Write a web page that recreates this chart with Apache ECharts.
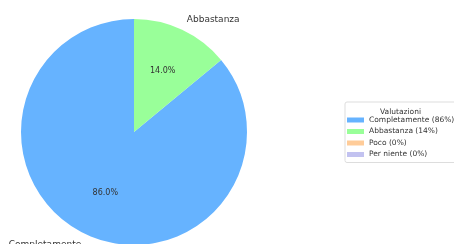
<!DOCTYPE html>
<html>
<head>
<meta charset="utf-8">
<script src="https://cdn.jsdelivr.net/npm/echarts@6/dist/echarts.min.js"></script>
<style>
  html, body { margin: 0; padding: 0; background: #fff; }
  #chart { width: 454px; height: 244px; }
</style>
</head>
<body>
<div id="chart"></div>
<script>
// dati
var categories = ['Completamente', 'Abbastanza', 'Poco', 'Per niente'];
var percentuali = [86, 14, 0, 0];
var colori = ['#66b3ff', '#99ff99', '#ffcc99', '#c2c2f0'];

var myChart = echarts.init(document.getElementById('chart'));

var legendNames = categories.map(function (c, i) {
  return c + ' (' + percentuali[i] + '%)';
});

// spicchi colorati
var pieData = categories.map(function (c, i) {
  return { name: legendNames[i], value: percentuali[i], itemStyle: { color: colori[i] } };
});

// percentuali a ~0.6 del raggio (pie trasparente piu' grande)
var pctData = categories.map(function (c, i) {
  return { name: c + '_pct', value: percentuali[i], label: { show: percentuali[i] > 0 } };
});

// etichette esterne
var outerData = categories.map(function (c, i) {
  return {
    name: c,
    value: percentuali[i],
    label: { show: percentuali[i] > 0 },
    labelLine: { show: false }
  };
});

var R = 113;
var centro = [134, 132];
var option = {
  animation: false,
  title: {
    text: 'Valutazioni',
    left: 375,
    top: 103,
    textStyle: { fontSize: 7.5, fontWeight: 'normal', color: '#333', fontFamily: 'DejaVu Sans' }
  },
  legend: {
    orient: 'vertical',
    left: 345,
    top: 102,
    data: legendNames,
    padding: [14, 40, 4, 2],
    itemWidth: 17,
    itemHeight: 5,
    itemGap: 3.5,
    icon: 'rect',
    borderColor: '#ddd',
    borderWidth: 1,
    borderRadius: 2,
    selectedMode: false,
    textStyle: { fontSize: 7.5, lineHeight: 8, color: '#333', fontFamily: 'DejaVu Sans' }
  },
  series: [
    {
      type: 'pie',
      center: centro,
      radius: R,
      startAngle: 90,
      clockwise: false,
      silent: true,
      data: pieData,
      label: { show: false },
      labelLine: { show: false },
      itemStyle: { borderWidth: 0 }
    },
    {
      type: 'pie',
      center: centro,
      radius: R * 1.14,
      startAngle: 90,
      clockwise: false,
      silent: true,
      data: pctData,
      itemStyle: { color: 'rgba(0,0,0,0)', borderWidth: 0 },
      label: {
        position: 'inside',
        formatter: function (p) { return p.value.toFixed(1) + '%'; },
        fontSize: 8,
        color: '#333',
        fontFamily: 'DejaVu Sans'
      },
      labelLine: { show: false }
    },
    {
      type: 'pie',
      center: centro,
      radius: R,
      startAngle: 90,
      clockwise: false,
      silent: true,
      data: outerData,
      itemStyle: { color: 'rgba(0,0,0,0)', borderWidth: 0 },
      label: {
        position: 'outside',
        formatter: '{b}',
        fontSize: 9,
        color: '#333',
        fontFamily: 'DejaVu Sans',
        overflow: 'none',
        distanceToLabelLine: 0
      },
      labelLine: { show: false, length: 11, length2: 0 }
    }
  ]
};

myChart.setOption(option);
</script>
</body>
</html>
